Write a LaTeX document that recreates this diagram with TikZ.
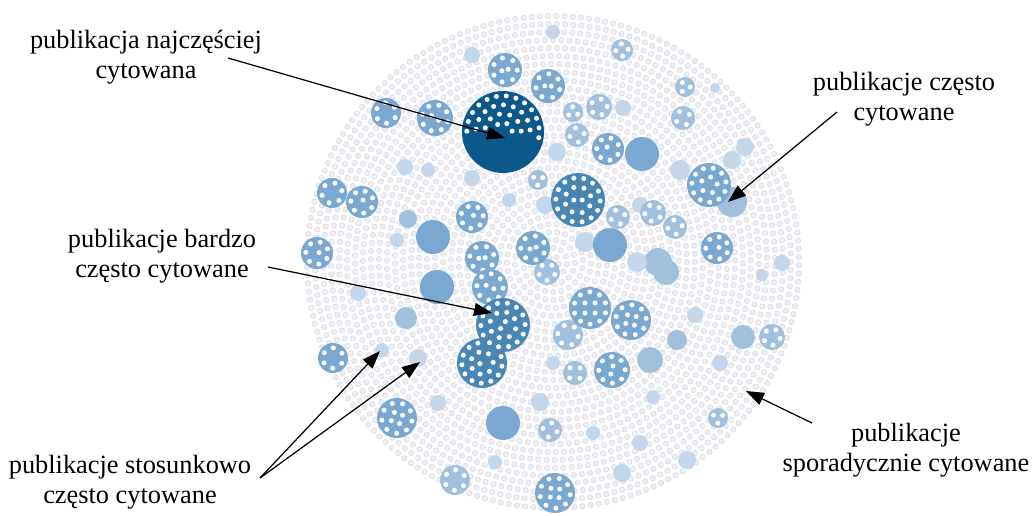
\documentclass[tikz,border=0pt]{standalone}
\usepackage{fontspec}
\setmainfont{Liberation Serif}
\usetikzlibrary{arrows.meta}

\definecolor{pubA}{RGB}{12,88,138}
\definecolor{pubB}{RGB}{74,134,180}
\definecolor{pubC}{RGB}{122,168,208}
\definecolor{pubD}{RGB}{160,192,222}
\definecolor{pubE}{RGB}{196,214,234}
\definecolor{dotfill}{RGB}{238,238,243}
\definecolor{dotline}{RGB}{220,220,229}

% white dots inside a circle: [cut-off below centre]{x}{y}{radius}
\newcommand\pubdots[4][99]{%
  \foreach \q in {4.8,13.8,22.8,31.8,40.8} {
    \pgfmathsetmacro\pro{#4-\q}
    \ifdim\pro pt>2pt
      \pgfmathtruncatemacro\m{max(1,floor(2*pi*\pro/9.6))}
      \pgfmathsetmacro\st{360/\m}
      \foreach \k in {1,...,\m} {
        \pgfmathsetmacro\pdx{\pro*cos(\st*\k+7*\q+#3)}
        \pgfmathsetmacro\pdy{\pro*sin(\st*\k+7*\q+#3)}
        \ifdim\pdy pt<#1pt \fill[white] ({#2+\pdx},{#3+\pdy}) circle (2.5);\fi
      }
    \fi
  }
}

\begin{document}
\begin{tikzpicture}[x=0.02cm,y=-0.02cm,
    caption/.style={align=center, inner sep=0pt, font=\fontsize{15}{17}\selectfont},
    pointer/.style={-{Triangle[length=3.6mm,width=2.6mm]}, line width=0.7pt}]
    \useasboundingbox (0,0) rectangle (1032,515);

    % rarely cited papers
    \foreach \r in {6,14,...,246} {
        \pgfmathtruncatemacro\n{round(2*pi*\r/8.2)}
        \pgfmathsetmacro\step{360/\n}
        \foreach \k in {1,...,\n} {
            \filldraw[fill=dotfill, draw=dotline, line width=0.35pt]
                ({553+\r*cos(\step*\k+3*\r)},{262+\r*sin(\step*\k+3*\r)}) circle (2.7);
        }
    }

    % plain circles
    \foreach \x/\y/\r/\c in {553/32/7/pubE, 623/108/8/pubE, 557/152/9/pubE, 745/147/9/pubE,
        732/160/9/pubE, 680/170/10/pubE, 405/167/8/pubE, 428/170/7/pubE, 472/178/8/pubE,
        408/219/9/pubD, 397/240/7/pubE, 509/200/7/pubE, 545/205/9/pubE, 640/205/8/pubE,
        658/262/14/pubD, 666/272/13/pubD, 637/262/10/pubE, 585/242/10/pubE, 358/293/8/pubE,
        406/318/11/pubD, 677/340/10/pubD, 695/315/8/pubE, 743/337/12/pubD, 782/263/8/pubE,
        762/275/6/pubE, 553/363/7/pubE, 382/350/7/pubE, 418/358/9/pubE, 438/403/8/pubE,
        540/402/9/pubE, 593/433/7/pubE, 720/363/8/pubE, 640/443/8/pubE, 687/460/9/pubE,
        622/473/9/pubE, 495/462/7/pubE, 653/397/7/pubE, 472/55/8/pubE, 715/88/5/pubE,
        732/202/15/pubD, 650/360/13/pubD,
        642/154/17/pubC, 610/245/17/pubC, 433/237/17/pubC, 437/287/17/pubC, 503/423/17/pubC} {
        \fill[fill=\c] (\x,\y) circle (\r);
    }

    % dotted circles
    \foreach \x/\y/\r/\c in {622/50/11/pubD, 685/87/10/pubD, 683/118/12/pubD, 599/107/13/pubD,
        573/112/10/pubD, 577/135/12/pubD, 538/180/10/pubD, 618/217/12/pubD, 653/213/13/pubD,
        675/227/12/pubD, 547/272/13/pubD, 568/335/15/pubD, 772/337/13/pubD, 575/373/12/pubD,
        550/430/12/pubD, 718/418/10/pubD, 455/480/15/pubD,
        505/70/17/pubC, 548/86/17/pubC, 386/113/15/pubC, 435/118/18/pubC, 608/149/16/pubC,
        709/185/22/pubC, 332/193/15/pubC, 362/202/16/pubC, 472/217/16/pubC, 317/253/16/pubC,
        533/248/17/pubC, 717/248/16/pubC, 482/258/17/pubC, 490/287/18/pubC, 590/308/21/pubC,
        631/320/20/pubC, 612/370/18/pubC, 333/358/15/pubC, 397/418/20/pubC, 555/493/20/pubC,
        578/200/27/pubB, 482/363/25/pubB, 503/325/27/pubB} {
        \fill[fill=\c] (\x,\y) circle (\r);
        \pubdots{\x}{\y}{\r}
    }
    \fill[pubA] (503,132) circle (41);
    \pubdots[6]{503}{132}{41}

    \node[caption] (lab-top) at (146,57) {publikacja najczęściej\\cytowana};
    \node[caption] (lab-often) at (904,99) {publikacje często\\cytowane};
    \node[caption] (lab-very) at (162,256) {publikacje bardzo\\często cytowane};
    \node[caption] (lab-fairly) at (130,482) {publikacje stosunkowo\\często cytowane};
    \node[caption] (lab-rare) at (906,450) {publikacje\\sporadycznie cytowane};

    \coordinate (top-from) at (228,58);
    \coordinate (top-to) at (505,138);
    \coordinate (often-from) at (837,112);
    \coordinate (often-to) at (728,202);
    \coordinate (very-from) at (268,267);
    \coordinate (very-to) at (492,313);
    \coordinate (fairly-from) at (260,478);
    \coordinate (fairly-to1) at (380,351);
    \coordinate (fairly-to2) at (420,362);
    \coordinate (rare-from) at (812,423);
    \coordinate (rare-to) at (746,391);

    \draw[pointer] (top-from) -- (top-to);
    \draw[pointer] (often-from) -- (often-to);
    \draw[pointer] (very-from) -- (very-to);
    \draw[pointer] (fairly-from) -- (fairly-to1);
    \draw[pointer] (fairly-from) -- (fairly-to2);
    \draw[pointer] (rare-from) -- (rare-to);
\end{tikzpicture}
\end{document}
